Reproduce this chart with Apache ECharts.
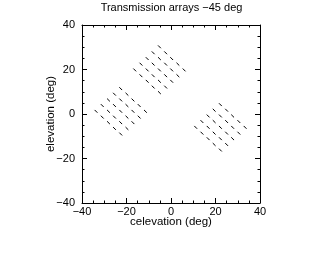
<!DOCTYPE html>
<html>
<head>
<meta charset="utf-8">
<script src="https://cdn.jsdelivr.net/npm/echarts@6/dist/echarts.min.js"></script>
<style>html,body{margin:0;padding:0;background:#fff;}#c{width:327px;height:261px;}</style>
</head>
<body>
<div id="c"></div>
<script>
// Element positions (celevation, elevation) in degrees
const arrayA = [
  [-5.2, 30.2],
  [-8.0, 27.5], [-2.4, 27.5],
  [-10.7, 24.9], [-5.2, 24.9], [0.3, 24.9],
  [-13.5, 22.4], [-8.0, 22.4], [-2.4, 22.4], [3.1, 22.4],
  [-16.3, 19.8], [-10.7, 19.8], [-5.2, 19.8], [0.3, 19.8], [5.9, 19.8],
  [-13.5, 17.2], [-8.0, 17.2], [-2.4, 17.2], [3.1, 17.2],
  [-10.7, 14.7], [-5.2, 14.7], [0.3, 14.7],
  [-8.0, 12.1], [-2.4, 12.1],
  [-5.2, 9.6]
];
const arrayB = [
  [-22.6, 11.4],
  [-25.4, 8.9], [-19.8, 8.9],
  [-28.1, 6.3], [-22.6, 6.3], [-17.1, 6.3],
  [-30.9, 3.8], [-25.4, 3.8], [-19.8, 3.8], [-14.3, 3.8],
  [-33.7, 1.2], [-28.1, 1.2], [-22.6, 1.2], [-17.1, 1.2], [-11.5, 1.2],
  [-30.9, -1.4], [-25.4, -1.4], [-19.8, -1.4], [-14.3, -1.4],
  [-28.1, -3.9], [-22.6, -3.9], [-17.1, -3.9],
  [-25.4, -6.5], [-19.8, -6.5],
  [-22.6, -9.0]
];
const arrayC = [
  [22.2, 4.2],
  [19.4, 1.7], [25.0, 1.7],
  [16.7, -0.9], [22.2, -0.9], [27.7, -0.9],
  [13.9, -3.4], [19.4, -3.4], [25.0, -3.4], [30.5, -3.4],
  [11.1, -6.0], [16.7, -6.0], [22.2, -6.0], [27.7, -6.0], [33.3, -6.0],
  [13.9, -8.6], [19.4, -8.6], [25.0, -8.6], [30.5, -8.6],
  [16.7, -11.1], [22.2, -11.1], [27.7, -11.1],
  [19.4, -13.7], [25.0, -13.7],
  [22.2, -16.2]
];
const axisMin = -40, axisMax = 40, majorStep = 20;
const titleText = 'Transmission arrays \u221245 deg';
const xName = 'celevation (deg)';
const yName = 'elevation (deg)';

const FONT = 'Liberation Sans';
const fmt = v => String(v).replace('-', '\u2212');
function makeAxis(pos, showLabel, extra) {
  return Object.assign({
    type: 'value', position: pos, min: axisMin, max: axisMax, interval: majorStep,
    axisLine: { show: true, onZero: false, lineStyle: { color: '#000', width: 1 } },
    axisTick: { show: true, inside: true, length: 5, lineStyle: { color: '#000', width: 1 } },
    minorTick: { show: true, splitNumber: 4, length: 2.5, lineStyle: { color: '#000', width: 1 } },
    splitLine: { show: false },
    axisLabel: { show: showLabel, color: '#000', fontFamily: FONT, fontSize: 11, formatter: fmt, margin: 3 }
  }, extra || {});
}
const seg = 1.4;
function renderSeg(params, api) {
  const p = api.coord([api.value(0), api.value(1)]);
  return { type: 'line', shape: { x1: p[0] - seg, y1: p[1] - seg, x2: p[0] + seg, y2: p[1] + seg },
           style: { stroke: '#000', lineWidth: 1 } };
}
const chart = echarts.init(document.getElementById('c'), null, { renderer: 'canvas' });
chart.setOption({
  animation: false,
  backgroundColor: '#fff',
  grid: { left: 82, top: 25, width: 178, height: 178, containLabel: false },
  xAxis: [
    makeAxis('bottom', true, { name: xName, nameLocation: 'middle', nameGap: 13, nameMoveOverlap: false,
      nameTextStyle: { color: '#000', fontFamily: FONT, fontSize: 11.5 } }),
    makeAxis('top', false)
  ],
  yAxis: [
    makeAxis('left', true, { name: yName, nameLocation: 'middle', nameGap: 25, nameMoveOverlap: false,
      nameTextStyle: { color: '#000', fontFamily: FONT, fontSize: 11.5 },
      axisLabel: { show: true, color: '#000', fontFamily: FONT, fontSize: 11, formatter: fmt, margin: 7 } }),
    makeAxis('right', false)
  ],
  graphic: [{ type: 'text', x: 171.5, y: 8, style: { text: titleText, textAlign: 'center', textVerticalAlign: 'middle', font: '11px "' + FONT + '"', fill: '#000' } }],
  series: [arrayA, arrayB, arrayC].map(d => ({
    type: 'custom', xAxisIndex: 0, yAxisIndex: 0, data: d, renderItem: renderSeg,
    encode: { x: 0, y: 1 }
  }))
});
</script>
</body>
</html>
